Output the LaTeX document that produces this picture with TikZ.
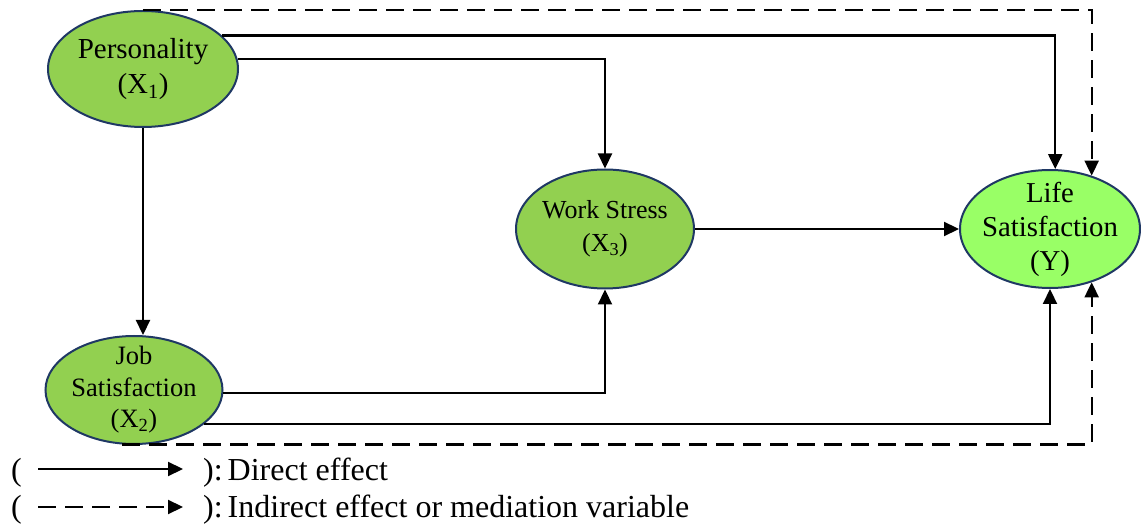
\documentclass[tikz,border=0pt]{standalone}
\usepackage{fontspec}
\setmainfont{Liberation Serif}
\usetikzlibrary{arrows.meta,shapes.geometric,calc}
\definecolor{nodegreen}{HTML}{92D050}
\definecolor{lifegreen}{HTML}{99FF66}
\definecolor{navyline}{HTML}{1F3864}
\begin{document}
\begin{tikzpicture}[x=1pt,y=-1pt,
  var/.style={ellipse, draw=navyline, line width=2pt, fill=nodegreen, inner sep=-30pt, align=center},
  eff/.style={line width=2.2pt, -{Triangle[length=15pt,width=14pt]}},
  ind/.style={eff, dash pattern=on 18pt off 9pt},
  legtext/.style={anchor=base west, inner sep=0pt, font=\fontsize{32}{38}\selectfont}
]
\useasboundingbox (0,0) rectangle (1141,526);

\node[var, minimum width=190pt, minimum height=116pt, font=\fontsize{29}{35}\selectfont] (P) at (143,69) {Personality\\(X\textsubscript{1})};
\node[var, minimum width=177pt, minimum height=108pt, font=\fontsize{26.5}{31.5}\selectfont] (J) at (134,390) {Job\\Satisfaction\\(X\textsubscript{2})};
\node[var, minimum width=178pt, minimum height=119pt, font=\fontsize{26}{33}\selectfont] (W) at (605,229) {Work Stress\\(X\textsubscript{3})};
\node[var, fill=lifegreen, minimum width=180pt, minimum height=118pt, font=\fontsize{28.8}{34}\selectfont] (L) at (1050,229) {Life\\Satisfaction\\(Y)};

% direct effects
\draw[eff] (P.23.8) -| (L.85.1);
\draw[eff] (P.6.7) -| (W.north);
\draw[eff] (P.south) -- (P.south |- J.north);
\draw[eff] (J.-2) -| (W.south);
\draw[eff] (J.-26.3) -| (L.south);
\draw[eff] (W.east) -- (L.west);
% indirect effects
\draw[ind] (P.north) -| (L.52.9);
\draw[ind] (J.258.4) -| (L.-52.9);

% legend
\node[legtext] (o1) at (11,481) {(};
\node[legtext] (c1) at (203,481) {):\kern5pt Direct effect};
\coordinate (a1s) at (38,469);
\coordinate (a1e) at (183,469);
\draw[eff] (a1s) -- (a1e);
\node[legtext] (o2) at (11,518) {(};
\node[legtext] (c2) at (203,518) {):\kern5pt Indirect effect or mediation variable};
\coordinate (a2s) at (38,507);
\coordinate (a2e) at (183,507);
\draw[ind] (a2s) -- (a2e);
\end{tikzpicture}
\end{document}
